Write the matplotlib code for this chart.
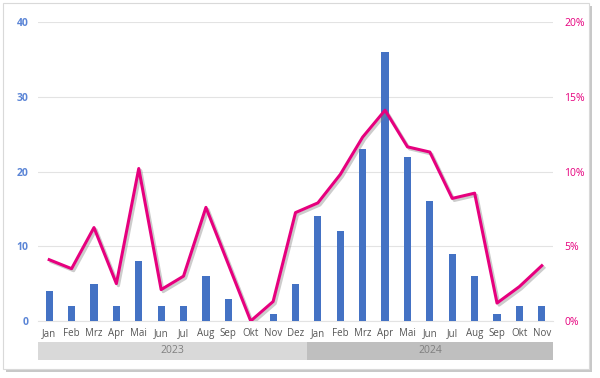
import matplotlib
matplotlib.use("Agg")
import matplotlib.pyplot as plt
import matplotlib.patheffects as pe
from matplotlib.patches import Rectangle
import numpy as np

months = ["Jan", "Feb", "Mrz", "Apr", "Mai", "Jun", "Jul", "Aug", "Sep", "Okt", "Nov", "Dez",
          "Jan", "Feb", "Mrz", "Apr", "Mai", "Jun", "Jul", "Aug", "Sep", "Okt", "Nov"]
years = ["2023", "2024"]
year_counts = [12, 11]
counts = [4, 2, 5, 2, 8, 2, 2, 6, 3, 0, 1, 5,
          14, 12, 23, 36, 22, 16, 9, 6, 1, 2, 2]
share_pct = [4.1, 3.5, 6.25, 2.5, 10.2, 2.1, 3.0, 7.6, 3.8, 0.0, 1.3, 7.25,
             7.9, 9.8, 12.3, 14.1, 11.65, 11.3, 8.2, 8.55, 1.2, 2.3, 3.7]

blue = "#4472C4"
pink = "#E6007E"
plt.rcParams["font.family"] = ["Open Sans", "DejaVu Sans"]

fig = plt.figure(figsize=(6, 3.78), dpi=100)
# outer frame with shadow
fig.patches.append(Rectangle((6 / 600, 1 - 372 / 378), 586 / 600, 366 / 378,
                             transform=fig.transFigure, facecolor="#c8c8c8", edgecolor="none", zorder=-3))
fig.patches.append(Rectangle((3 / 600, 1 - 369 / 378), 586 / 600, 366 / 378,
                             transform=fig.transFigure, facecolor="white", edgecolor="#d9d9d9", lw=0.8, zorder=-2))

ax = fig.add_axes([38 / 600, 1 - 321 / 378, 515 / 600, 299 / 378])
ax.patch.set_alpha(0)
x = np.arange(len(months))
ax.bar(x, counts, width=0.32, color=blue, zorder=3)
ax.set_ylim(0, 40)
ax.set_xlim(-0.5, len(months) - 0.5)
ax.set_yticks([0, 10, 20, 30, 40])
ax.yaxis.grid(True, color="#e3e3e3", lw=0.8, zorder=0)
ax.set_axisbelow(True)
for s in ax.spines.values():
    s.set_visible(False)
ax.spines["bottom"].set_visible(True)
ax.spines["bottom"].set_color("#e3e3e3")
ax.tick_params(axis="y", length=0, colors="#5b85d6", labelsize=7.5, pad=7)
ax.tick_params(axis="x", length=0, colors="#555555", labelsize=7, pad=5)
ax.set_xticks(x)
ax.set_xticklabels(months)
for lab in ax.get_yticklabels():
    lab.set_fontweight("bold")

ax2 = ax.twinx()
ax2.plot(x, share_pct, color=pink, lw=2.2, zorder=4,
         path_effects=[pe.SimpleLineShadow(offset=(1.5, -1.5), shadow_color="gray", alpha=0.4),
                       pe.Normal()])
ax2.set_ylim(0, 20)
ax2.set_yticks([0, 5, 10, 15, 20])
ax2.set_yticklabels(["0%", "5%", "10%", "15%", "20%"])
ax2.tick_params(axis="y", length=0, colors=pink, labelsize=7.5, pad=8)
for s in ax2.spines.values():
    s.set_visible(False)

# year bands
start = -0.5
band_colors = ["#d9d9d9", "#bfbfbf"]
trans = ax.get_xaxis_transform()
for yr, n, c in zip(years, year_counts, band_colors):
    ax.add_patch(Rectangle((start, -0.130), n, 0.060, transform=trans, facecolor=c,
                           edgecolor="none", clip_on=False))
    ax.text(start + n / 2, -0.100, yr, transform=trans, ha="center", va="center",
            fontsize=7.5, color="#7f7f7f")
    start += n

fig.savefig("out.png", dpi=100)
